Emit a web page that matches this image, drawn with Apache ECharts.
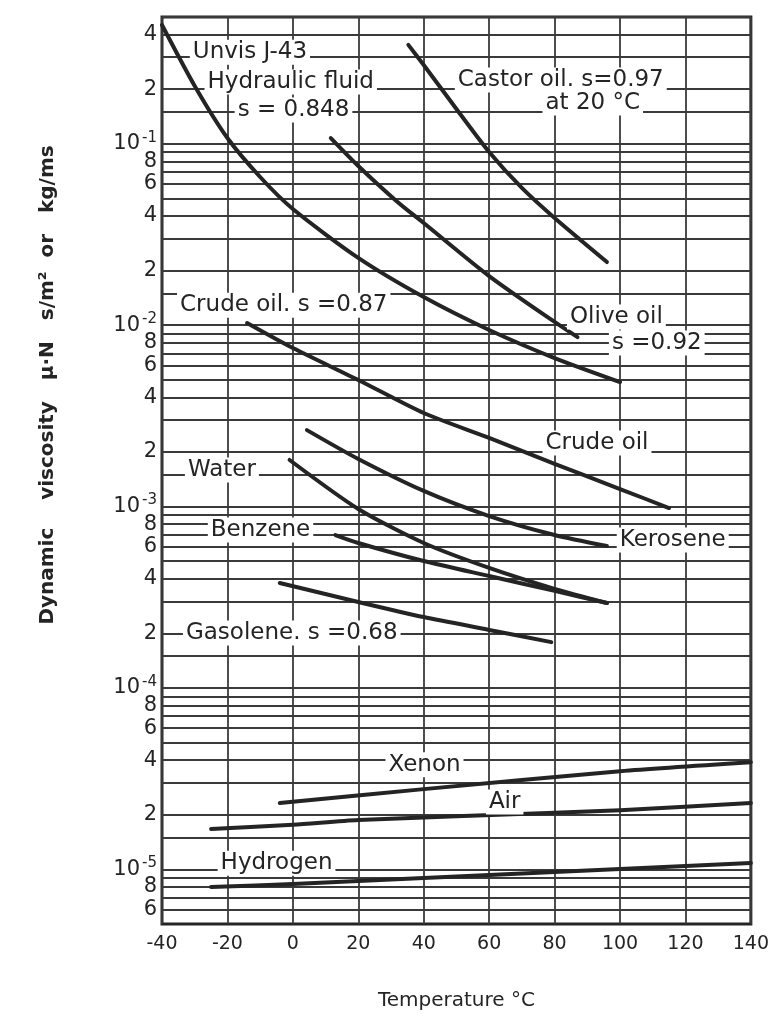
<!DOCTYPE html>
<html>
<head>
<meta charset="utf-8">
<script src="https://cdn.jsdelivr.net/npm/echarts@6/dist/echarts.min.js"></script>
<style>html,body{margin:0;padding:0;background:#fff}#c{width:772px;height:1025px}</style>
</head>
<body>
<div id="c"></div>
<script>
// ---------- data ----------
const xTicks = [-40, -20, 0, 20, 40, 60, 80, 100, 120, 140];
const yLabelValues = [6e-6, 8e-6, 1e-5, 2e-5, 4e-5, 6e-5, 8e-5, 1e-4, 2e-4, 4e-4, 6e-4, 8e-4,
  1e-3, 2e-3, 4e-3, 6e-3, 8e-3, 1e-2, 2e-2, 4e-2, 6e-2, 8e-2, 1e-1, 2e-1, 4e-1];
const yGridMantissas = [1, 1.5, 2, 3, 4, 5, 6, 7, 8, 9];
const yGridExponents = [-6, -5, -4, -3, -2, -1];

const unvisT = [-40, -30, -20, -10, 0, 20, 40, 60, 80, 100];
const unvisV = [0.452, 0.2085, 0.1076, 0.0656, 0.0437, 0.0235, 0.01429, 0.00941, 0.00659, 0.00486];

const castorT = [35.3, 40, 50, 60, 70, 80, 96];
const castorV = [0.351, 0.272, 0.1555, 0.0901, 0.0571, 0.039, 0.0223];

const oliveT = [11.6, 20, 32, 40, 60, 80, 87];
const oliveV = [0.1076, 0.0755, 0.0478, 0.0366, 0.01866, 0.01042, 0.0086];

const crudeT = [-14, 0, 20, 40, 60, 80, 100, 115];
const crudeV = [0.01028, 0.00748, 0.00499, 0.00328, 0.00239, 0.00172, 0.00125, 0.000982];

const keroseneT = [4.3, 20, 40, 60, 80, 96];
const keroseneV = [0.00264, 0.00183, 0.00122, 0.000887, 0.000697, 0.000606];

const waterT = [-1, 20, 40, 60, 80, 96];
const waterV = [0.001807, 0.00097, 0.00063, 0.000459, 0.000352, 0.000294];

const benzeneT = [13, 20, 40, 60, 80, 96];
const benzeneV = [0.000697, 0.00063, 0.000501, 0.000414, 0.000343, 0.000294];

const gasoleneT = [-4, 20, 40, 60, 79];
const gasoleneV = [0.000379, 0.000298, 0.000246, 0.000209, 0.000179];

const xenonT = [-4, 40, 100, 140];
const xenonV = [2.32e-5, 2.77e-5, 3.48e-5, 3.9e-5];

const airT = [-25, 0, 20, 80, 100, 140];
const airV = [1.67e-5, 1.76e-5, 1.87e-5, 2.05e-5, 2.12e-5, 2.32e-5];

const hydrogenT = [-25, 0, 20, 80, 100, 140];
const hydrogenV = [8.0e-6, 8.3e-6, 8.63e-6, 9.68e-6, 1.005e-5, 1.083e-5];

// ---------- layout / styling ----------
const FONT = 'DejaVu Sans';
const INK = '#242424';
const GRIDC = '#3a3a3a';
const Y_MIN = 5e-6, Y_MAX = 0.5;

const gridValues = [];
yGridExponents.forEach(e => yGridMantissas.forEach(m => {
  const v = m * Math.pow(10, e);
  if (v >= Y_MIN * 0.999 && v <= Y_MAX * 1.001) gridValues.push(v);
}));

function mk(name, T, V) {
  return {
    name, type: 'line', data: T.map((t, i) => [t, V[i]]),
    smooth: 0.25, symbol: 'none', showSymbol: false, silent: true, z: 5,
    lineStyle: { color: INK, width: 4, cap: 'round', join: 'round' }
  };
}

function yFmt(v) {
  const e = Math.floor(Math.log10(v) + 1e-6);
  const m = Math.round(v / Math.pow(10, e));
  if (m === 1) return '{b|10}{s|-' + (-e) + '}';
  return '{b|' + m + '}';
}

const chart = echarts.init(document.getElementById('c'));
const option = {
  animation: false,
  backgroundColor: '#fff',
  grid: { left: 162, right: 17, top: 17, bottom: 101, show: true, borderColor: INK, borderWidth: 3, containLabel: false },
  xAxis: {
    type: 'value', min: -40, max: 140, interval: 20,
    name: 'Temperature °C', nameLocation: 'middle', nameGap: 67,
    nameTextStyle: { fontFamily: FONT, fontSize: 20, color: INK },
    axisLine: { show: false }, axisTick: { show: false },
    axisLabel: { fontFamily: FONT, fontSize: 19, color: INK, margin: 11 },
    splitLine: { show: true, lineStyle: { color: GRIDC, width: 1.8 } }
  },
  yAxis: {
    type: 'log', logBase: 10, min: Y_MIN, max: Y_MAX,
    axisLine: { show: false },
    axisTick: { show: false, customValues: gridValues },
    axisLabel: {
      customValues: yLabelValues, formatter: yFmt, margin: 5,
      rich: {
        b: { fontFamily: FONT, fontSize: 21, color: INK },
        s: { fontFamily: FONT, fontSize: 15, color: INK, verticalAlign: 'bottom', padding: [0, 0, 12, 2] }
      }
    },
    splitLine: { show: true, lineStyle: { color: GRIDC, width: 1.8 } }
  },
  series: [
    mk('Unvis J-43 Hydraulic fluid', unvisT, unvisV),
    mk('Castor oil', castorT, castorV),
    mk('Olive oil', oliveT, oliveV),
    mk('Crude oil', crudeT, crudeV),
    mk('Kerosene', keroseneT, keroseneV),
    mk('Water', waterT, waterV),
    mk('Benzene', benzeneT, benzeneV),
    mk('Gasolene', gasoleneT, gasoleneV),
    mk('Xenon', xenonT, xenonV),
    mk('Air', airT, airV),
    mk('Hydrogen', hydrogenT, hydrogenV)
  ]
};
chart.setOption(option);

// annotation anchors (left edge, vertical middle) in data coordinates
const annotations = [
  { text: 'Unvis J-43', at: [-31.5, 0.32] },
  { text: 'Hydraulic fluid', at: [-27, 0.219] },
  { text: 's = 0.848', at: [-17.8, 0.1535] },
  { text: 'Castor oil. s=0.97', at: [49.5, 0.225] },
  { text: 'at 20 °C', at: [76.3, 0.168] },
  { text: 'Crude oil. s =0.87', at: [-35.4, 0.0129] },
  { text: 'Olive oil', at: [83.8, 0.0111] },
  { text: 's =0.92', at: [96.6, 0.00798] },
  { text: 'Crude oil', at: [76.3, 0.002244] },
  { text: 'Kerosene', at: [99, 0.000655] },
  { text: 'Water', at: [-33, 0.00159] },
  { text: 'Benzene', at: [-26, 0.000743] },
  { text: 'Gasolene. s =0.68', at: [-33.6, 0.000201] },
  { text: 'Xenon', at: [28.3, 3.77e-5] },
  { text: 'Air', at: [59, 2.35e-5] },
  { text: 'Hydrogen', at: [-23, 1.08e-5] }
];
const graphics = annotations.map(a => {
  const p = chart.convertToPixel({ gridIndex: 0 }, a.at);
  return {
    type: 'text', x: p[0], y: p[1], z: 20, silent: true,
    style: { text: a.text, fontFamily: FONT, fontSize: 23, fill: INK, align: 'left', verticalAlign: 'middle',
             backgroundColor: '#fff', padding: [1, 3] }
  };
});
graphics.push({
  type: 'text', x: 48, y: 385, rotation: Math.PI / 2, z: 20, silent: true,
  style: { text: 'Dynamic    viscosity   μ·N   s/m²  or   kg/ms', fontFamily: FONT, fontSize: 20, fontWeight: 'bold',
           fill: INK, align: 'center', verticalAlign: 'middle' }
});
chart.setOption({ graphic: graphics });
</script>
</body>
</html>
